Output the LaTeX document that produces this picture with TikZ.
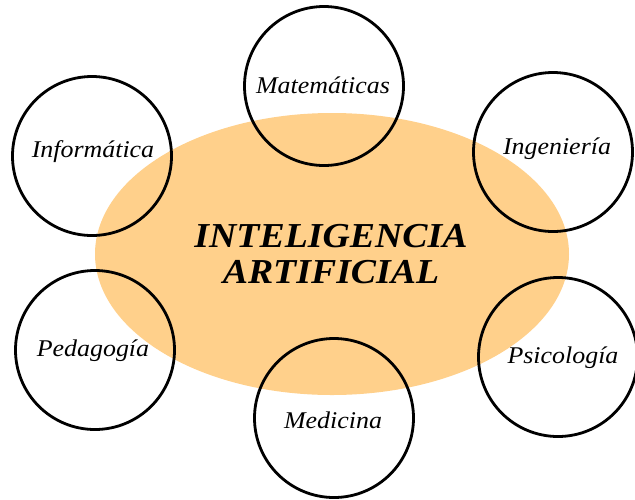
\documentclass[tikz,border=0pt]{standalone}
\usepackage{fontspec}
\setmainfont{Liberation Serif}
\definecolor{aiorange}{HTML}{FFD08B}
\begin{document}
\begin{tikzpicture}[x=1pt,y=-1pt,
  field/.style={draw=black,line width=2.8pt,circle,minimum size=159pt,inner sep=0pt},
  lab/.style={font=\fontsize{24}{26}\selectfont\itshape,xscale=1.08},
  title/.style={font=\fontsize{35}{36}\selectfont\bfseries\itshape,align=center,xscale=1.08}]
\useasboundingbox (0,0) rectangle (635,499);
\fill[aiorange] (332,254) ellipse [x radius=237, y radius=141];
\node[title] (ia) at (331,254) {INTELIGENCIA\\ARTIFICIAL};
\node[field] (mat) at (324,86) {};
\node[field] (inf) at (92,156) {};
\node[field] (ing) at (553,152) {};
\node[field] (ped) at (95,350) {};
\node[field] (psi) at (558,357) {};
\node[field] (med) at (334,418) {};
\node[lab] (tmat) at (323,85) {Matemáticas};
\node[lab] (tinf) at (93,152) {Informática};
\node[lab] (ting) at (557,149) {Ingeniería};
\node[lab] (tped) at (93,351) {Pedagogía};
\node[lab] (tpsi) at (563,358) {Psicología};
\node[lab] (tmed) at (333,420) {Medicina};
\end{tikzpicture}
\end{document}
